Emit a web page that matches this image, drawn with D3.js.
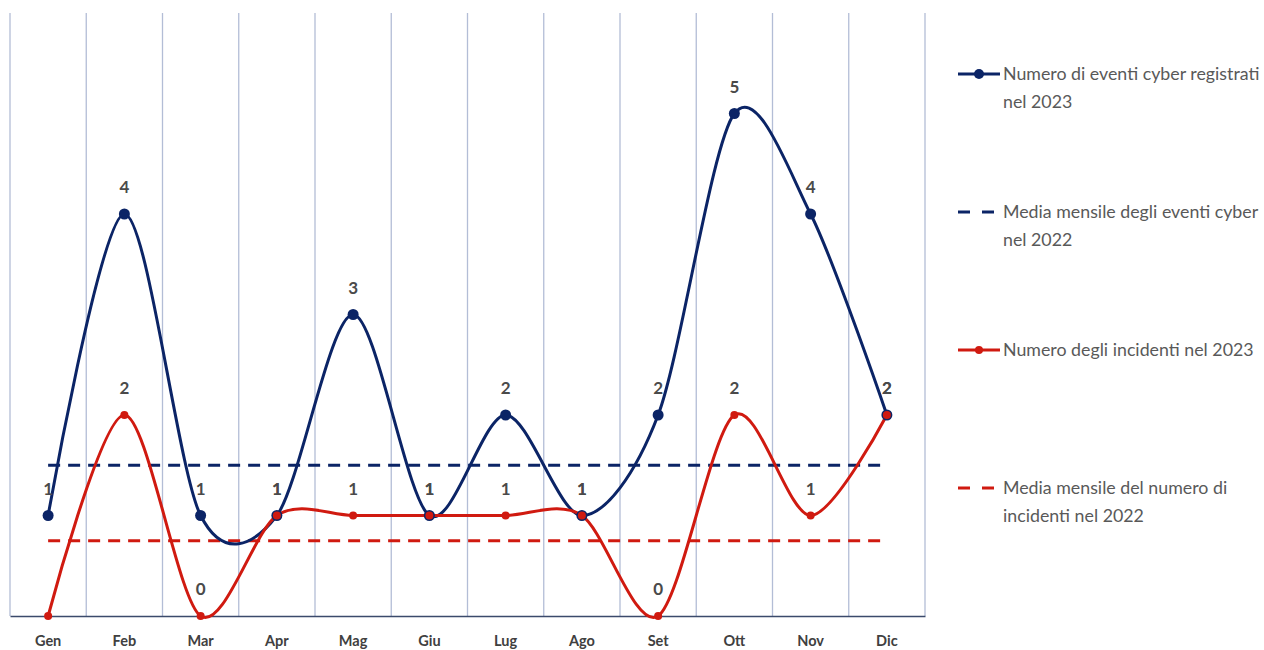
<!DOCTYPE html>
<html>
<head>
<meta charset="utf-8">
<script src="https://cdn.jsdelivr.net/npm/d3@7"></script>
<style>
  body { margin: 0; background: #fff; }
  svg { font-family: Lato, "Open Sans", sans-serif; }
</style>
</head>
<body>
<div id="chart"></div>
<script>
const months = ['Gen', 'Feb', 'Mar', 'Apr', 'Mag', 'Giu', 'Lug', 'Ago', 'Set', 'Ott', 'Nov', 'Dic'];
const eventi2023 = [1, 4, 1, 1, 3, 1, 2, 1, 2, 5, 4, 2];
const incidenti2023 = [0, 2, 0, 1, 1, 1, 1, 1, 0, 2, 1, 2];
// the first incident label is not shown in the original
const incidentiLabelShown = [false, true, true, true, true, true, true, true, true, true, true, true];
const mediaEventi2022 = 1.5;
const mediaIncidenti2022 = 0.75;
const legendLabels = [
  ['Numero di eventi cyber registrati', 'nel 2023'],
  ['Media mensile degli eventi cyber', 'nel 2022'],
  ['Numero degli incidenti nel 2023'],
  ['Media mensile del numero di', 'incidenti nel 2022']
];

const width = 1264;
const height = 650;
const navy = '#0b2466';
const red = '#d01a10';

const svg = d3.select('#chart')
              .append('svg')
              .attr('width', width)
              .attr('height', height);

const xScale = d3.scaleBand()
                 .domain(months)
                 .range([10, 925]);

const yScale = d3.scaleLinear()
                 .domain([0, 6])
                 .range([616, 13]);

const cx = d => xScale(d) + xScale.bandwidth() / 2;

// vertical grid lines
svg.append('g')
   .selectAll('line')
   .data(d3.range(months.length + 1))
   .join('line')
   .attr('x1', i => 10 + i * xScale.bandwidth())
   .attr('x2', i => 10 + i * xScale.bandwidth())
   .attr('y1', yScale(6))
   .attr('y2', yScale(0))
   .attr('stroke', '#b3bdd6')
   .attr('stroke-width', 1.3);

// x axis
const xAxis = d3.axisBottom(xScale).tickSize(0).tickPadding(20);
const gx = svg.append('g')
              .attr('transform', `translate(0,${yScale(0)})`)
              .call(xAxis);
gx.select('.domain').attr('stroke', '#3b4a6b').attr('stroke-width', 1.5);
gx.selectAll('text')
  .attr('font-size', 14.5)
  .attr('font-weight', 'bold')
  .attr('fill', '#404040')
  .style('font-family', 'Lato, sans-serif');

// average lines
const avg = [
  { v: mediaEventi2022, color: navy },
  { v: mediaIncidenti2022, color: red }
];
svg.append('g')
   .selectAll('line')
   .data(avg)
   .join('line')
   .attr('x1', cx(months[0]))
   .attr('x2', cx(months[months.length - 1]))
   .attr('y1', d => yScale(d.v))
   .attr('y2', d => yScale(d.v))
   .attr('stroke', d => d.color)
   .attr('stroke-width', 3)
   .attr('stroke-dasharray', '12,8');

const line = d3.line()
               .x((d, i) => cx(months[i]))
               .y(d => yScale(d))
               .curve(d3.curveCardinal.tension(0.1));

const series = [
  { values: eventi2023, color: navy, r: 5.5, shown: eventi2023.map(() => true) },
  { values: incidenti2023, color: red, r: 4, shown: incidentiLabelShown }
];

series.forEach(s => {
  svg.append('path')
     .datum(s.values)
     .attr('d', line)
     .attr('fill', 'none')
     .attr('stroke', s.color)
     .attr('stroke-width', 3);
});

series.forEach(s => {
  svg.append('g')
     .selectAll('circle')
     .data(s.values)
     .join('circle')
     .attr('cx', (d, i) => cx(months[i]))
     .attr('cy', d => yScale(d))
     .attr('r', s.r)
     .attr('fill', s.color);
});

series.forEach(s => {
  svg.append('g')
     .selectAll('text')
     .data(s.values.map((v, i) => ({ v, i })).filter(d => s.shown[d.i]))
     .join('text')
     .attr('x', d => cx(months[d.i]))
     .attr('y', d => yScale(d.v) - 21)
     .attr('text-anchor', 'middle')
     .attr('font-size', 17)
     .attr('font-weight', 'bold')
     .attr('fill', '#4a4a4a')
     .text(d => d.v);
});

// legend
const legend = svg.append('g');
const legendY = [74, 212, 350, 488];
legendLabels.forEach((lines, i) => {
  const g = legend.append('g').attr('transform', `translate(958,${legendY[i]})`);
  const color = i < 2 ? navy : red;
  const dashed = i % 2 === 1;
  g.append('line')
   .attr('x1', 0).attr('x2', 42)
   .attr('y1', 0).attr('y2', 0)
   .attr('stroke', color)
   .attr('stroke-width', 3)
   .attr('stroke-dasharray', dashed ? '12,12' : null);
  if (!dashed) {
    g.append('circle').attr('cx', 21).attr('cy', 0).attr('r', i === 0 ? 5 : 4).attr('fill', color);
  }
  g.append('text')
   .attr('x', 45)
   .attr('y', 6)
   .attr('font-size', 17.8)
   .attr('fill', '#595959')
   .selectAll('tspan')
   .data(lines)
   .join('tspan')
   .attr('x', 45)
   .attr('dy', (d, j) => j === 0 ? 0 : 28)
   .text(d => d);
});
</script>
</body>
</html>
